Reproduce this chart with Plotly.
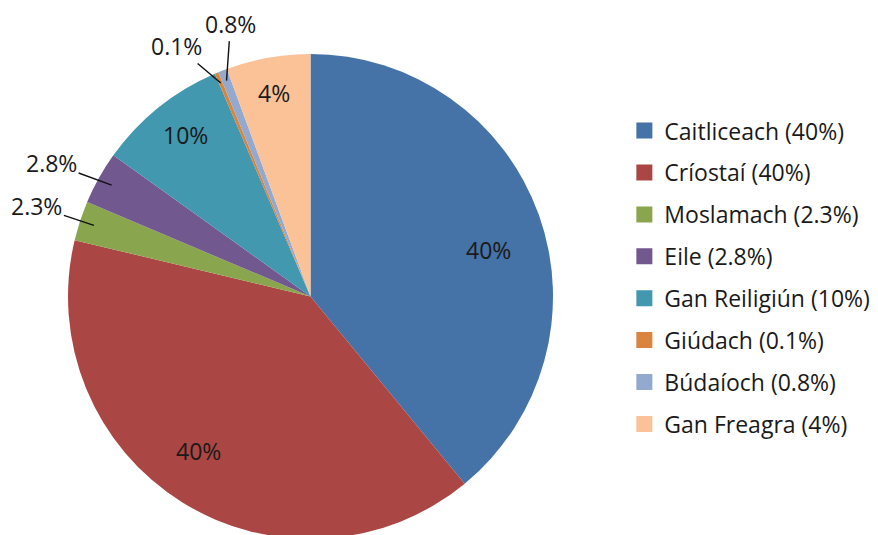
import math
import plotly.graph_objects as go

names = ["Caitliceach (40%)", "Críostaí (40%)", "Moslamach (2.3%)", "Eile (2.8%)",
         "Gan Reiligiún (10%)", "Giúdach (0.1%)", "Búdaíoch (0.8%)", "Gan Freagra (4%)"]
values = [39.0, 39.67, 2.63, 3.52, 8.65, 0.25, 0.6, 5.6]
labels = ["40%", "40%", "2.3%", "2.8%", "10%", "0.1%", "0.8%", "4%"]
colors = ["#4572A7", "#AA4643", "#89A54E", "#71588F", "#4198AF", "#DB843D", "#93A9CF", "#FCC297"]

W, H = 878, 535
# page body has an 8px margin, so figure coords are the picture's minus 8
CX, CY, R = 302.5, 288.5, 242.5
FONT = "Open Sans"
FS = 23

# label placement: radial fraction, angle nudge (deg), text offset (px) for outside ones
label_r = [0.76, 0.785, 0.94, 0.94, 0.843, 0.955, 0.955, 0.852]
label_dang = [5, 4, 0, 0, 1, 0, 0, 0]
outside = {2: (-57, -19), 3: (-60, -22), 5: (-44, -37), 6: (4, -57)}

fig = go.Figure()

fig.add_trace(go.Pie(
    labels=names,
    values=values,
    sort=False,
    direction="clockwise",
    rotation=0,
    marker={"colors": colors, "line": {"width": 0}},
    textinfo="none",
    hoverinfo="label+value",
    showlegend=False,
    domain={"x": [(CX - R) / W, (CX + R) / W], "y": [1 - (CY + R) / H, 1 - (CY - R) / H]},
))

# legend entries as separate groups so the spacing can follow the original
for name, color in zip(names, colors):
    fig.add_trace(go.Scatter(
        x=[None], y=[None], mode="markers", name=name, legendgroup=name,
        marker={"symbol": "square", "size": 16, "color": color},
    ))

total = sum(values)
cum = 0
for i, (v, lab) in enumerate(zip(values, labels)):
    mid = (cum + v / 2) / total * 2 * math.pi + math.radians(label_dang[i])
    cum += v
    px = CX + label_r[i] * R * math.sin(mid)
    py = CY - label_r[i] * R * math.cos(mid)
    if i in outside:
        ax, ay = outside[i]
        fig.add_annotation(
            x=px / W, y=1 - py / H, xref="paper", yref="paper",
            text=lab, showarrow=True, arrowhead=0, arrowwidth=1.4, arrowcolor="#111",
            ax=ax, ay=ay, font={"size": FS, "color": "#1a1a1a", "family": FONT},
        )
    else:
        fig.add_annotation(
            x=px / W, y=1 - py / H, xref="paper", yref="paper",
            xanchor="center", yanchor="middle",
            text=lab, showarrow=False,
            font={"size": FS, "color": "#1a1a1a", "family": FONT},
        )

fig.update_layout(
    width=W,
    height=H,
    margin={"l": 0, "r": 0, "t": 0, "b": 0},
    paper_bgcolor="white",
    plot_bgcolor="white",
    font={"family": FONT, "size": FS, "color": "#1a1a1a"},
    xaxis={"visible": False},
    yaxis={"visible": False},
    legend={"x": 0.702, "y": 0.496, "xanchor": "left", "yanchor": "middle",
            "tracegroupgap": 9, "itemclick": False},
)

fig.write_html("out.html")
